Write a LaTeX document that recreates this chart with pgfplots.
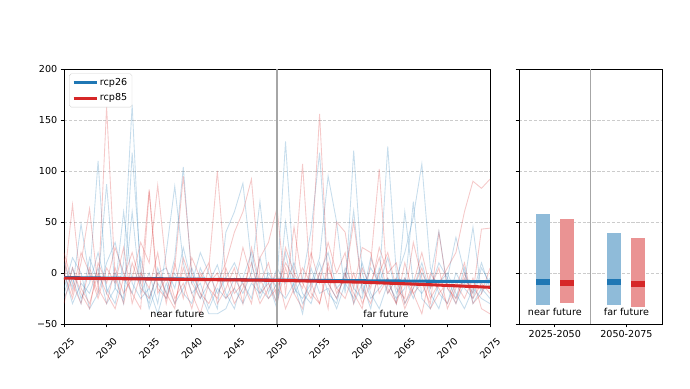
\documentclass[border=0pt]{standalone}
\usepackage{fontspec}
\setmainfont{DejaVu Sans}
\usepackage{pgfplots}
\usepackage{pgfplotstable}
\pgfplotsset{compat=1.18}
\definecolor{cblue}{HTML}{1F77B4}
\definecolor{cred}{HTML}{D62728}
\definecolor{bblue}{HTML}{8FBBD9}
\definecolor{bred}{HTML}{EA9393}

\pgfplotstableread{
year b1 b2 b3 b4 b5 r1 r2 r3 r4 r5
2025 -20 10 -25 0 -15 20 -10 0 -30 15
2026 5 -15 -5 -30 15 -10 67 -25 5 -20
2027 -25 48 -30 -10 0 -30 -15 10 -20 20
2028 -10 -5 15 -20 -35 5 -30 63 -35 0
2029 20 110 -10 5 -20 -20 0 -15 10 -25
2030 -15 -20 87 -30 10 163 -20 -30 -10 5
2031 -30 0 -15 -15 30 -5 -35 5 25 -10
2032 10 -30 -25 60 -5 -30 -5 -20 0 25
2033 165 118 60 -10 -20 10 20 -5 -20 -30
2034 -10 5 -20 -25 15 -15 -10 30 -35 0
2035 -30 -35 0 -15 -25 -25 82 10 80 -15
2036 5 -10 -30 -40 0 0 -15 86 -20 20
2037 -20 -25 20 -10 5 -20 -25 5 -5 -30
2038 15 0 85 -30 -15 -35 5 -25 -30 10
2039 104 -20 10 -15 25 15 95 -10 5 -25
2040 -5 -30 -20 5 -10 -10 0 -35 -20 15
2041 -25 5 -10 -20 20 -25 -20 0 -40 -5
2042 -10 -15 -35 -40 0 5 -30 -15 -10 10
2043 8 -35 -15 -40 -20 100 -10 -25 0 -30
2044 -20 40 -25 -35 -5 -5 10 5 -25 -15
2045 -35 60 -5 -15 10 -30 40 -20 -15 5
2046 -5 88 -20 -30 -10 -15 60 -10 25 -30
2047 20 10 0 -10 -25 10 92 -30 -5 25
2048 -15 -25 70 -20 15 -20 -5 15 -30 -10
2049 -25 -5 -10 0 -20 -10 -25 30 -15 10
2050 -10 -30 -35 -15 5 -30 -15 64 0 -25
2051 129 20 50 -25 -10 5 10 -20 -35 25
2052 -5 -20 -15 -10 10 -20 -5 45 -15 0
2053 -30 -5 -25 -40 -20 -35 107 -10 5 -15
2054 -15 42 -10 5 -30 10 -20 -25 -10 20
2055 10 118 15 -20 0 156 -30 0 -30 -10
2056 -20 -10 95 -15 20 -10 5 -35 10 30
2057 -30 -25 50 -35 -15 -25 -15 50 -20 0
2058 5 0 -20 -10 -5 0 -25 40 -5 20
2059 -15 -30 120 -25 61 -20 0 -15 50 -30
2060 -25 -10 0 10 -20 -35 -30 25 -15 5
2061 15 -35 -25 -20 5 10 -10 20 -30 -15
2062 -10 5 -15 -35 -10 102 15 -20 0 25
2063 124 -20 -5 -10 15 -15 -20 -5 20 0
2064 0 -5 -30 -25 -20 -30 -5 -30 -15 10
2065 -30 20 60 -15 -5 -5 -35 10 -25 -30
2066 -15 55 -10 70 -25 -20 -15 -20 30 -10
2067 10 107 -20 -25 0 -40 5 -10 -5 20
2068 -20 5 -5 -35 -15 0 -25 -30 -35 -15
2069 -35 -20 41 -10 10 -15 -10 40 -20 5
2070 -5 -30 -15 0 -5 -30 5 -15 -10 -35
2071 -25 0 -30 -20 35 -10 20 -25 -30 -15
2072 5 -15 -10 -35 0 -25 60 -5 0 10
2073 -30 -25 45 -15 -20 -5 90 -20 -25 -30
2074 -15 5 -20 -25 10 -35 83 43 -10 -20
2075 -25 -10 -5 -30 -15 -40 92 44 -20 5
}\members

\pgfplotsset{
  common/.style={
    scale only axis,
    anchor=south west,
    height=266.09pt,
    ymin=-50, ymax=200,
    ytick={-50,0,50,100,150,200},
    tick align=outside,
    major tick length=3.5pt,
    xtick pos=bottom, ytick pos=left,
    tick style={black, line width=0.8pt},
    axis line style={line width=0.8pt, black},
    ymajorgrids,
    grid style={gray!40, line width=0.8pt, dash pattern=on 3.5pt off 1.6pt},
    /pgf/number format/1000 sep={},
    /pgf/number format/assume math mode=true,
    ticklabel style={font=\fontsize{10}{12}\selectfont},
  },
  thinb/.style={cblue, line width=0.9pt, draw opacity=0.25, forget plot},
  thinr/.style={cred, line width=0.9pt, draw opacity=0.25, forget plot},
}

\begin{document}
\fontsize{10}{12}\selectfont
\begin{tikzpicture}
\path[use as bounding box] (0,0) rectangle (720pt,404.87pt);
\begin{axis}[common,
  at={(66.78pt,66.78pt)},
  width=444.52pt,
  xmin=2025, xmax=2075,
  xtick={2025,2030,...,2075},
  yticklabels={−50,0,50,100,150,200},
  xticklabel style={rotate=45, anchor=center},
  xticklabel shift=22pt,
  legend style={at={(0.012,0.982)}, anchor=north west, draw=gray!35, rounded corners=2pt,
    fill=white, fill opacity=0.8, text opacity=1, font=\fontsize{10}{12}\selectfont,
    inner sep=3pt, row sep=3pt},
  legend cell align=left,
  legend image code/.code={\draw[#1, line width=3pt] (0pt,0pt) -- (24pt,0pt);},
]
\addplot[thinb] table[x=year,y=b1] {\members};
\addplot[thinb] table[x=year,y=b2] {\members};
\addplot[thinb] table[x=year,y=b3] {\members};
\addplot[thinb] table[x=year,y=b4] {\members};
\addplot[thinb] table[x=year,y=b5] {\members};
\addplot[thinr] table[x=year,y=r1] {\members};
\addplot[thinr] table[x=year,y=r2] {\members};
\addplot[thinr] table[x=year,y=r3] {\members};
\addplot[thinr] table[x=year,y=r4] {\members};
\addplot[thinr] table[x=year,y=r5] {\members};
\addplot[gray!70, line width=1.1pt, forget plot] coordinates {(2050,-50) (2050,200)};
\addplot[cblue, line width=3.2pt] coordinates {(2025,-4.5) (2050,-7) (2075,-8.5)};
\addlegendentry{rcp26}
\addplot[cred, line width=3.2pt] coordinates {(2025,-5) (2050,-7.2) (2060,-9) (2068,-11.5) (2075,-14)};
\addlegendentry{rcp85}
\node[font=\fontsize{10}{12}\selectfont] at (axis cs:2038.3,-40) {near future};
\node[font=\fontsize{10}{12}\selectfont] at (axis cs:2062.8,-40) {far future};
\end{axis}

\begin{axis}[common,
  at={(541.57pt,66.78pt)},
  width=149.5pt,
  xmin=-0.5, xmax=1.5,
  xtick={0,1},
  xticklabels={2025-2050,2050-2075},
  yticklabels={},
]
\addplot[gray!70, line width=1.1pt] coordinates {(0.5,-50) (0.5,200)};
\addplot[fill=bblue, draw=none] coordinates {(-0.265,-31) (-0.065,-31) (-0.065,58.2) (-0.265,58.2)} --cycle;
\addplot[fill=bred, draw=none] coordinates {(0.07,-29.7) (0.265,-29.7) (0.265,53.3) (0.07,53.3)} --cycle;
\addplot[fill=bblue, draw=none] coordinates {(0.735,-31) (0.93,-31) (0.93,38.9) (0.735,38.9)} --cycle;
\addplot[fill=bred, draw=none] coordinates {(1.06,-33.3) (1.256,-33.3) (1.256,34) (1.06,34)} --cycle;
\addplot[fill=cblue, draw=none] coordinates {(-0.265,-12) (-0.065,-12) (-0.065,-6.2) (-0.265,-6.2)} --cycle;
\addplot[fill=cred, draw=none] coordinates {(0.07,-12.7) (0.265,-12.7) (0.265,-7) (0.07,-7)} --cycle;
\addplot[fill=cblue, draw=none] coordinates {(0.735,-12) (0.93,-12) (0.93,-6.2) (0.735,-6.2)} --cycle;
\addplot[fill=cred, draw=none] coordinates {(1.06,-13.3) (1.256,-13.3) (1.256,-7.5) (1.06,-7.5)} --cycle;
\node[font=\fontsize{10}{12}\selectfont] at (axis cs:0,-38.5) {near future};
\node[font=\fontsize{10}{12}\selectfont] at (axis cs:1,-38.5) {far future};
\end{axis}
\end{tikzpicture}
\end{document}
